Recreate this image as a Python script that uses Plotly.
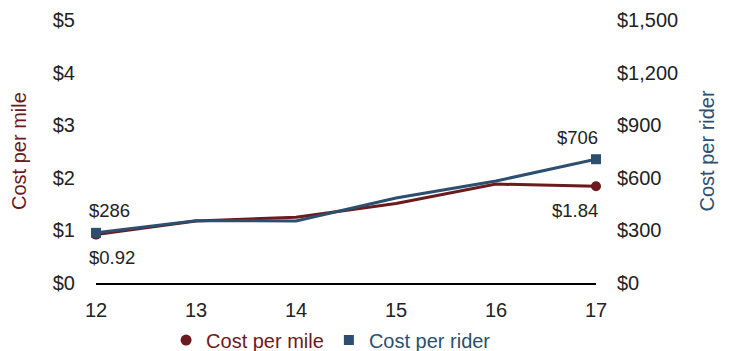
import plotly.graph_objects as go

years = [12, 13, 14, 15, 16, 17]
cost_per_mile = [0.92, 1.18, 1.25, 1.51, 1.88, 1.84]
cost_per_rider = [286, 355, 354, 485, 582, 706]
left_ticks = [0, 1, 2, 3, 4, 5]
right_ticks = [0, 300, 600, 900, 1200, 1500]

RED = "#6b1a1d"
BLUE = "#2c4f6f"
TXT = "#222222"
FONT = "Liberation Sans"

end_sizes = [10 if i in (0, len(years) - 1) else 0 for i in range(len(years))]

fig = go.Figure()
fig.add_trace(go.Scatter(x=years, y=cost_per_mile, mode="lines+markers",
                         line=dict(color=RED, width=3),
                         marker=dict(symbol="circle", size=end_sizes, color=RED, opacity=1,
                                     line=dict(width=0)),
                         cliponaxis=False, showlegend=False, yaxis="y"))
fig.add_trace(go.Scatter(x=years, y=cost_per_rider, mode="lines+markers",
                         line=dict(color=BLUE, width=3),
                         marker=dict(symbol="square", size=end_sizes, color=BLUE, opacity=1,
                                     line=dict(width=0)),
                         cliponaxis=False, showlegend=False, yaxis="y2"))
# legend entries
fig.add_trace(go.Scatter(x=[None], y=[None], mode="markers",
                         marker=dict(symbol="circle", size=11, color=RED),
                         name=f"<span style='color:{RED}'>Cost per mile</span>"))
fig.add_trace(go.Scatter(x=[None], y=[None], mode="markers",
                         marker=dict(symbol="square", size=10, color=BLUE),
                         name=f"<span style='color:{BLUE}'>Cost per rider</span>", yaxis="y2"))

lbl_font = dict(size=18.5, color=TXT, family=FONT)
ann = [
    dict(x=years[0], y=cost_per_rider[0], yref="y2", text=f"${cost_per_rider[0]:,}",
         xanchor="left", xshift=-9, yshift=22),
    dict(x=years[0], y=cost_per_mile[0], yref="y", text=f"${cost_per_mile[0]:.2f}",
         xanchor="left", xshift=-9, yshift=-23),
    dict(x=years[-1], y=cost_per_rider[-1], yref="y2", text=f"${cost_per_rider[-1]:,}",
         xanchor="right", xshift=4, yshift=22),
    dict(x=years[-1], y=cost_per_mile[-1], yref="y", text=f"${cost_per_mile[-1]:.2f}",
         xanchor="right", xshift=4, yshift=-24),
]
for a in ann:
    a.update(xref="x", showarrow=False, yanchor="middle", font=lbl_font)

# axis titles
ann.append(dict(text="Cost per mile", xref="paper", yref="paper", x=0, y=0.5,
                xanchor="center", yanchor="middle", xshift=-77.5, textangle=-90,
                showarrow=False, font=dict(size=20, color=RED, family=FONT)))
ann.append(dict(text="Cost per rider", xref="paper", yref="paper", x=1, y=0.5,
                xanchor="center", yanchor="middle", xshift=110, textangle=-90,
                showarrow=False, font=dict(size=20, color=BLUE, family=FONT)))

fig.update_layout(
    width=726, height=343,
    margin=dict(l=88, r=138, t=12, b=68),
    paper_bgcolor="white", plot_bgcolor="white",
    font=dict(family=FONT, size=20, color=TXT),
    annotations=ann,
    showlegend=True,
    legend=dict(orientation="h", xref="container", yref="container",
                x=0.445, xanchor="center", y=0.032, yanchor="middle",
                font=dict(size=20), itemwidth=30, tracegroupgap=0),
    xaxis=dict(range=[12, 17], tickvals=years, ticktext=[str(y) for y in years],
               showgrid=False, zeroline=False, showline=True, linecolor="black", linewidth=1.5,
               ticks="outside", ticklen=8, tickcolor="rgba(0,0,0,0)", automargin=False),
    yaxis=dict(range=[0, 5], tickvals=left_ticks, ticktext=[f"${v}" for v in left_ticks],
               showgrid=False, zeroline=False, showline=False, automargin=False,
               ticks="outside", ticklen=16, tickcolor="rgba(0,0,0,0)"),
    yaxis2=dict(range=[0, 1500], overlaying="y", side="right", tickvals=right_ticks,
                ticktext=[f"${v:,}" for v in right_ticks], automargin=False,
                showgrid=False, zeroline=False, showline=False,
                ticks="outside", ticklen=16, tickcolor="rgba(0,0,0,0)"),
)

fig.write_html("out.html")
